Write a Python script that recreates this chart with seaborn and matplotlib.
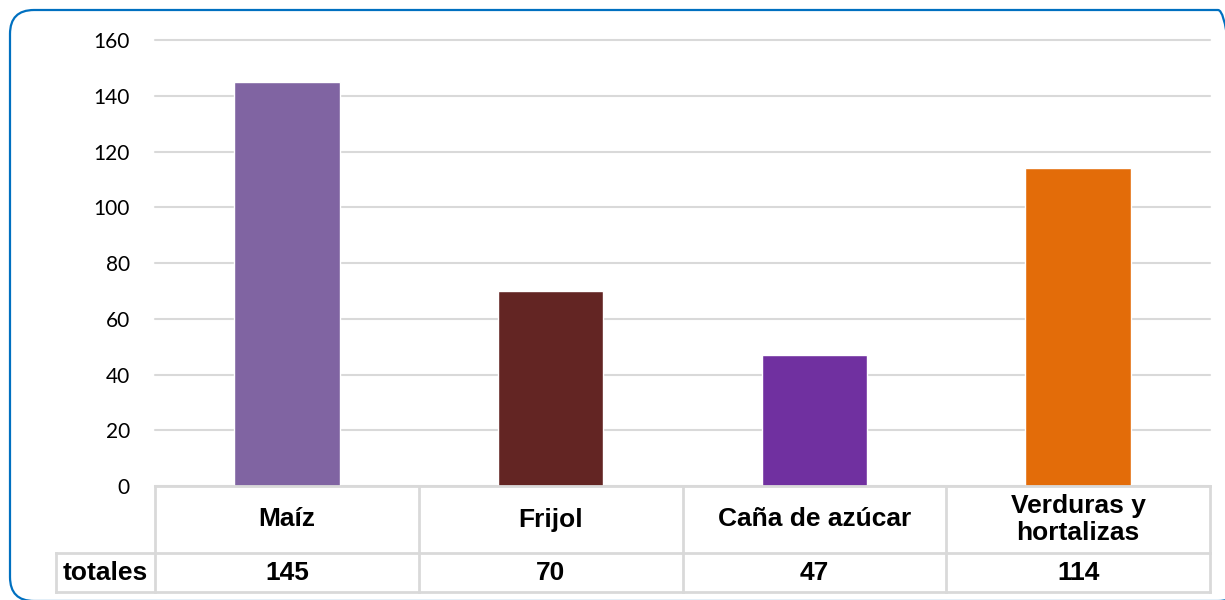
import matplotlib
matplotlib.use('Agg')
import seaborn as sns
import pandas as pd
from matplotlib import pyplot as plt
from matplotlib.patches import FancyBboxPatch
from matplotlib.transforms import IdentityTransform

# data
cultivos = ['Maíz', 'Frijol', 'Caña de azúcar', 'Verduras y\nhortalizas']
totales = [145, 70, 47, 114]
colores = ['#8064A2', '#632523', '#7030A0', '#E36C09']
y_ticks = [0, 20, 40, 60, 80, 100, 120, 140, 160]

df = pd.DataFrame({'cultivo': cultivos, 'total': totales})

W, H = 1225, 600
grid_col = '#D9D9D9'

sns.set_theme(style='white')
fig = plt.figure(figsize=(W / 100, H / 100), dpi=100)

# plot area in pixels
left, right, top, zero_y = 155, 1210, 40, 486
ax = fig.add_axes([left / W, 1 - zero_y / H, (right - left) / W, (zero_y - top) / H])
sns.barplot(data=df, x='cultivo', y='total', hue='cultivo', palette=colores,
            width=0.4, legend=False, ax=ax, saturation=1, zorder=3)
ax.set_xlim(-0.5, len(cultivos) - 0.5)
ax.set_ylim(0, 160)
ax.set_yticks(y_ticks)
ax.set_yticklabels([str(t) for t in y_ticks], fontsize=15, family='Lato', color='#000000')
ax.tick_params(axis='y', length=0, pad=18)
ax.set_xticks([])
ax.set_xlabel('')
ax.set_ylabel('')
for s in ax.spines.values():
    s.set_visible(False)
ax.yaxis.grid(True, color=grid_col, linewidth=1.5, zorder=0, clip_on=False)
ax.set_axisbelow(True)

# data table below the plot
tab_left, tab_bottom, row1 = 56, 592, 553
unit = (right - left) / len(cultivos)
tax = fig.add_axes([tab_left / W, 1 - tab_bottom / H, (right - tab_left) / W, (tab_bottom - zero_y) / H])
tax.set_xlim(-0.5 - (left - tab_left) / unit, len(cultivos) - 0.5)
tax.set_ylim(0, tab_bottom - zero_y)
tax.axis('off')
r1 = tab_bottom - row1
hdr_top = tab_bottom - zero_y
x0 = tax.get_xlim()[0]
lk = dict(color=grid_col, linewidth=2, solid_capstyle='projecting', clip_on=False)
tax.plot([-0.5, len(cultivos) - 0.5], [hdr_top, hdr_top], **lk)
tax.plot([x0, len(cultivos) - 0.5], [r1, r1], **lk)
tax.plot([x0, len(cultivos) - 0.5], [0, 0], **lk)
tax.plot([x0, x0], [0, r1], **lk)
for i in range(len(cultivos) + 1):
    tax.plot([i - 0.5, i - 0.5], [0, hdr_top], **lk)
txt = dict(ha='center', va='center', fontsize=19, fontweight='bold', family='Liberation Sans',
           color='#000000', linespacing=1.15)
for i, (c, v) in enumerate(zip(cultivos, totales)):
    tax.text(i, (hdr_top + r1) / 2, c, **txt)
    tax.text(i, r1 / 2, str(v), **txt)
tax.text((x0 - 0.5) / 2, r1 / 2, 'totales', **txt)

# rounded blue frame (display pixels, origin bottom-left)
frame = FancyBboxPatch((10, -1), 1232, 591, boxstyle='round,pad=0,rounding_size=24',
                       transform=IdentityTransform(), facecolor='none',
                       edgecolor='#0070C0', linewidth=1.6)
fig.patches.append(frame)

fig.savefig('out.png', dpi=100)
